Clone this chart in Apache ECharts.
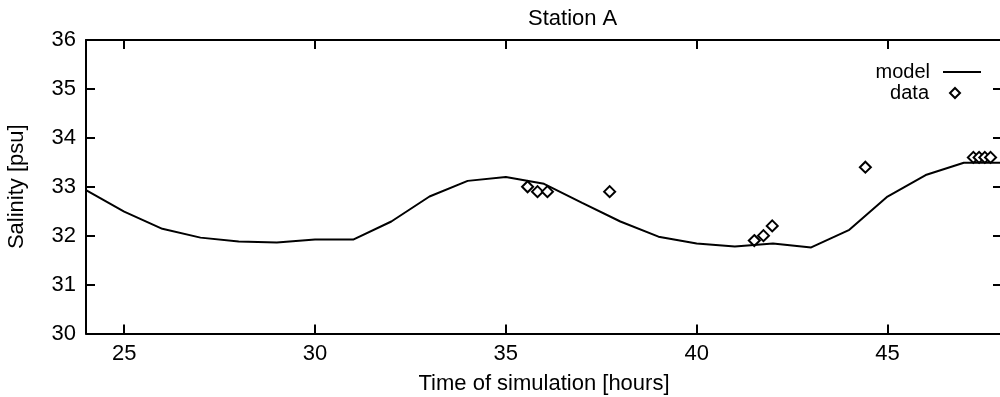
<!DOCTYPE html>
<html>
<head>
<meta charset="utf-8">
<script src="https://cdn.jsdelivr.net/npm/echarts@6/dist/echarts.min.js"></script>
<style>
html,body{margin:0;padding:0;background:#fff;}
#chart{width:1000px;height:397px;}
</style>
</head>
<body>
<div id="chart"></div>
<script>
// Model curve (hour, salinity)
const modelHours = [24,25,26,27,28,29,30,31,32,33,34,35,36,37,38,39,40,41,42,43,44,45,46,47,48];
const modelSalinity = [32.93,32.49,32.14,31.96,31.88,31.86,31.92,31.92,32.29,32.80,33.12,33.20,33.06,32.67,32.29,31.98,31.84,31.78,31.84,31.76,32.12,32.80,33.24,33.49,33.49];
// Observations
const dataHours = [35.57,35.83,36.09,37.72,41.51,41.75,41.98,44.42,47.25,47.4,47.55,47.7];
const dataSalinity = [33.0,32.9,32.9,32.9,31.9,32.0,32.2,33.4,33.6,33.6,33.6,33.6];
const xTicks = [25,30,35,40,45];
const yTicks = [30,31,32,33,34,35,36];

const FONT = 'Liberation Sans';
const FS = 22;
const chart = echarts.init(document.getElementById('chart'), null, {renderer:'canvas'});
const axisLine = {show:true, lineStyle:{color:'#000', width:2}};
const axisTick = {show:true, inside:true, length:9, lineStyle:{color:'#000', width:2}};
const legendText = {fontFamily:FONT, fontSize:20, color:'#000'};

chart.setOption({
  backgroundColor:'#fff',
  animation:false,
  title:{text:'Station A', left:528, top:8, padding:0,
    textStyle:{fontFamily:FONT, fontSize:FS, fontWeight:'normal', color:'#000'}},
  legend:[{
    orient:'vertical', right:19, top:62, align:'right', padding:0,
    itemWidth:38, itemHeight:2, icon:'rect',
    textStyle:{...legendText, padding:[0,8,0,0]},
    data:['model']
  },{
    orient:'vertical', right:39, top:83, align:'right', padding:0,
    itemWidth:10, itemHeight:10, icon:'diamond',
    textStyle:{...legendText, padding:[0,16,0,0]},
    data:['data']
  }],
  grid:{left:86, right:-2, top:40, bottom:63.5, containLabel:false, outerBoundsMode:'none'},
  xAxis:[{
    type:'value', min:24, max:48, interval:1,
    axisLine, axisTick:{...axisTick, customValues:xTicks},
    axisLabel:{show:true, customValues:xTicks, color:'#000', fontFamily:FONT, fontSize:FS, margin:9},
    splitLine:{show:false},
    name:'Time of simulation [hours]', nameLocation:'middle', nameGap:39,
    nameTextStyle:{fontFamily:FONT, fontSize:FS, color:'#000'}
  },{
    type:'value', position:'top', min:24, max:48, interval:1,
    axisLine, axisTick:{...axisTick, customValues:xTicks},
    axisLabel:{show:false}, splitLine:{show:false}
  }],
  yAxis:[{
    type:'value', min:30, max:36, interval:1,
    axisLine, axisTick:{...axisTick, customValues:yTicks},
    axisLabel:{customValues:yTicks, color:'#000', fontFamily:FONT, fontSize:FS, margin:10},
    splitLine:{show:false},
    name:'Salinity [psu]', nameLocation:'middle', nameGap:58, nameRotate:90,
    nameTextStyle:{fontFamily:FONT, fontSize:FS, color:'#000'}
  },{
    type:'value', position:'right', min:30, max:36, interval:1,
    axisLine, axisTick:{...axisTick, customValues:yTicks},
    axisLabel:{show:false}, splitLine:{show:false}
  }],
  series:[{
    name:'model', type:'line', symbol:'none',
    data: modelHours.map((h,i)=>[h, modelSalinity[i]]),
    lineStyle:{color:'#000', width:2},
    itemStyle:{color:'#000'}
  },{
    name:'data', type:'scatter', symbol:'diamond', symbolSize:11,
    data: dataHours.map((h,i)=>[h, dataSalinity[i]]),
    itemStyle:{color:'#fff', borderColor:'#000', borderWidth:2, opacity:1}
  }]
});
</script>
</body>
</html>
